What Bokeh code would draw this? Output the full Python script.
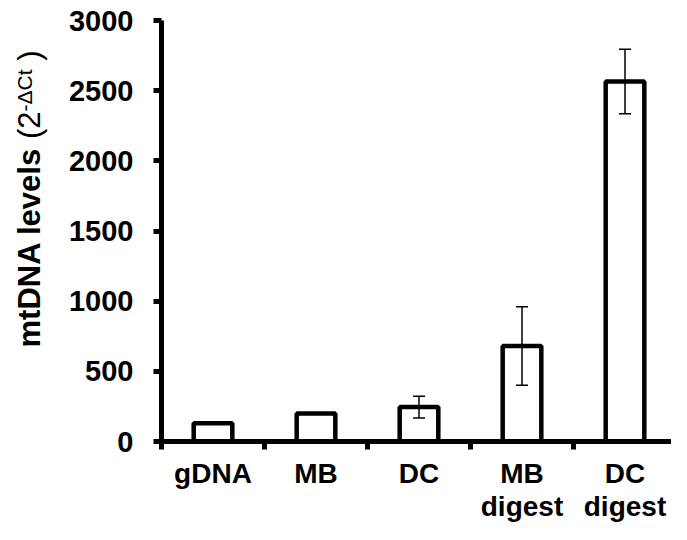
import math
from bokeh.plotting import figure
from bokeh.layouts import row
from bokeh.models import FixedTicker, Whisker, TeeHead, ColumnDataSource, Range1d
from bokeh.core.properties import value
from bokeh.embed import file_html
from bokeh.resources import INLINE

# ---- data ----
categories = ["gDNA", "MB", "DC", "MB\ndigest", "DC\ndigest"]
values = [130, 200, 245, 680, 2565]
errors = [0, 0, 78, 280, 230]
y_ticks = [0, 500, 1000, 1500, 2000, 2500, 3000]
title_parts = ["mtDNA levels", "(2", "-\u0394Ct", ")"]

centers = [i + 0.5 for i in range(len(categories))]
boundaries = list(range(len(categories) + 1))

FONT = "Liberation Sans"

# ---- layout constants (pixels) ----
W, H = 671, 524
TW = 60                   # width of the strip holding the y title
LEFT, TOP = 161, 20
FRAME_BOTTOM = 441        # where the plot frame ends (page px)
CAT_PX = 103.0            # px per category

p = figure(width=W - TW, height=H, output_backend="svg", toolbar_location=None,
           x_range=Range1d(0, (W - LEFT) / CAT_PX), y_range=Range1d(0, 3000),
           min_border_left=LEFT - TW, min_border_right=0, min_border_top=TOP,
           min_border_bottom=20)
p.outline_line_color = None
p.xgrid.visible = False
p.ygrid.visible = False
p.background_fill_color = "white"
p.border_fill_color = "white"

bar_src = ColumnDataSource(dict(x=centers, top=values))
p.vbar(x="x", top="top", width=0.375, bottom=0, source=bar_src,
       fill_color="white", line_color="black", line_width=4.5)

ex, eu, el = [], [], []
for c, v, e in zip(centers, values, errors):
    if e > 0:
        ex.append(c)
        eu.append(v + e)
        el.append(v - e)
err_src = ColumnDataSource(dict(x=ex, upper=eu, lower=el))
w = Whisker(base="x", upper="upper", lower="lower", source=err_src,
            line_width=1.5, line_color="black", level="overlay",
            upper_head=TeeHead(size=12, line_width=1.5, line_color="black"),
            lower_head=TeeHead(size=12, line_width=1.5, line_color="black"))
p.add_layout(w)

# y axis
ya = p.yaxis[0]
ya.ticker = FixedTicker(ticks=y_ticks, minor_ticks=[])
ya.axis_line_width = 5
ya.major_tick_line_width = 5
ya.major_tick_in = 0
ya.major_tick_out = 8
ya.minor_tick_out = 0
ya.minor_tick_in = 0
ya.major_label_standoff = 20
ya.major_label_text_font = FONT
ya.major_label_text_font_style = "bold"
ya.major_label_text_font_size = "29px"
ya.major_label_text_color = "black"
ya.axis_label_standoff = 0

# x axis
xa = p.xaxis[0]
xa.ticker = FixedTicker(ticks=centers, minor_ticks=boundaries)
xa.major_label_overrides = {c: lab for c, lab in zip(centers, categories)}
xa.axis_line_width = 5
xa.major_tick_in = 0
xa.major_tick_out = 0
xa.minor_tick_in = 0
xa.minor_tick_out = 8
xa.minor_tick_line_width = 5
xa.major_label_standoff = 8
xa.major_label_text_font = FONT
xa.major_label_text_font_style = "bold"
xa.major_label_text_font_size = "28px"
xa.major_label_text_color = "black"
xa.major_label_text_line_height = 1.08
xa.axis_label_standoff = 0
xa.axis_label_text_font_size = "0px"

# ---- y title strip (bold + regular + superscript pieces), centre-anchored ----
# In a row Bokeh aligns the frames, so this strip's frame spans TOP..FRAME_BOTTOM;
# its y range is expressed in negative page pixels.
tf = figure(width=TW, height=H, output_backend="svg", toolbar_location=None,
            x_range=Range1d(0, TW), y_range=Range1d(-FRAME_BOTTOM, -TOP),
            x_axis_type=None, y_axis_type=None,
            min_border_left=0, min_border_right=0, min_border_top=0, min_border_bottom=0)
tf.outline_line_color = None
tf.grid.visible = False
tf.background_fill_color = "white"
tf.border_fill_color = "white"

big, sup = 31, 21
styles = ["bold", "normal", "normal", "normal"]
sizes = [big, big, sup, big]
len_em = [6.446, 0.889, 2.001, 0.333]   # advance of each piece (in its own size)
gap_em = [0.278, 0.0, 0.278, 0.0]       # gap after each piece (in big-size em)
mid_px = [29.0, 29.0, 24.0, 29.0]       # horizontal centre of each piece
start_px = 347.0
ys, pos = [], start_px
for L, g, s in zip(len_em, gap_em, sizes):
    ys.append(-(pos - L * s / 2.0))
    pos -= L * s + g * big
tsrc = ColumnDataSource(dict(x=mid_px, y=ys, text=title_parts, style=styles,
                             size=[f"{s}px" for s in sizes]))
tf.text(x="x", y="y", text="text", source=tsrc, angle=math.pi / 2,
        text_font=value(FONT), text_font_style="style", text_font_size="size",
        text_baseline="middle", text_align="center", text_color="black")

layout = row(tf, p, spacing=0)
open("out.html", "w").write(file_html(layout, INLINE))
